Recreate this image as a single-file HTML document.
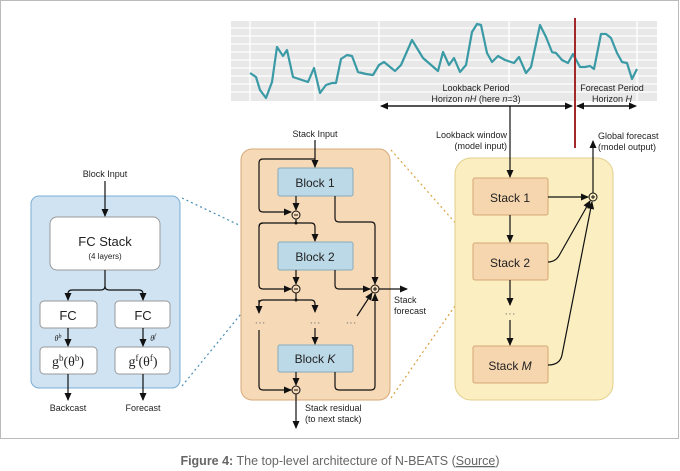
<!DOCTYPE html>
<html><head><meta charset="utf-8"><style>
body{margin:0;background:#fff;width:680px;height:471px;overflow:hidden}
svg{display:block;font-family:"Liberation Sans",sans-serif}
</style></head><body>
<svg width="680" height="471" viewBox="0 0 680 471" xmlns="http://www.w3.org/2000/svg">
<defs>
<marker id="a" markerWidth="8" markerHeight="8" refX="7" refY="4" orient="auto" markerUnits="userSpaceOnUse"><path d="M0,0.5 L8,4 L0,7.5 z" fill="#111"/></marker>
</defs>
<rect x="0.5" y="0.5" width="678" height="438" fill="#fff" stroke="#bbb"/>
<!-- chart -->
<rect x="231" y="21" width="426" height="80" fill="#e8e8e8"/>
<g stroke="#fff" stroke-width="1.3">
<line x1="231" y1="28" x2="657" y2="28"/><line x1="231" y1="36" x2="657" y2="36"/><line x1="231" y1="44" x2="657" y2="44"/><line x1="231" y1="52" x2="657" y2="52"/><line x1="231" y1="60" x2="657" y2="60"/><line x1="231" y1="68" x2="657" y2="68"/><line x1="231" y1="76" x2="657" y2="76"/><line x1="231" y1="84" x2="657" y2="84"/><line x1="231" y1="92" x2="657" y2="92"/>
<line x1="250" y1="21" x2="250" y2="101"/><line x1="315" y1="21" x2="315" y2="101"/><line x1="379" y1="21" x2="379" y2="101"/><line x1="509" y1="21" x2="509" y2="101"/><line x1="637" y1="21" x2="637" y2="101"/>
</g>
<polyline fill="none" stroke="#3a9aa5" stroke-width="2.2" stroke-linejoin="round" points="250,73 256,77 260,90 266,98 272,82 277,47 283,56 287,50 293,77 299,79 308,82 314,68 320,93 326,85 332,83 336,83 341,59 347,55 352,56 358,72 366,74 373,75 379,65 384,62 395,71 401,65 412,40 423,58 438,71 443,52 449,65 454,58 460,72 466,65 472,32 477,24 481,25 487,53 492,62 498,56 505,60 514,63 519,57 526,73 531,67 540,25 546,37 552,52 556,53 562,60 568,63 573,54 580,67 585,67 590,66 594,69 601,34 606,34 611,38 617,53 622,62 627,63 632,79 637,69"/>
<line x1="575" y1="18" x2="575" y2="148" stroke="#a3282a" stroke-width="2"/>
<g font-size="9" fill="#222" text-anchor="middle">
<text x="476" y="91">Lookback Period</text>
<text x="476" y="102">Horizon <tspan font-style="italic">nH</tspan> (here <tspan font-style="italic">n</tspan>=3)</text>
<text x="612" y="91">Forecast Period</text>
<text x="612" y="102">Horizon <tspan font-style="italic">H</tspan></text>
</g>
<g stroke="#111" stroke-width="1.2" fill="none">
<line x1="385" y1="106" x2="572" y2="106" marker-end="url(#a)"/>
<line x1="570" y1="106" x2="381" y2="106" marker-end="url(#a)"/>
<line x1="579" y1="106" x2="636" y2="106" marker-end="url(#a)"/>
<line x1="634" y1="106" x2="577" y2="106" marker-end="url(#a)"/>
</g>
<!-- Left block -->
<rect x="31" y="196" width="149" height="192" rx="8" fill="#cfe3f3" stroke="#7aaed4"/>
<rect x="50" y="217" width="110" height="53" rx="7" fill="#fff" stroke="#999"/>
<rect x="40" y="301" width="57" height="27" rx="4" fill="#fff" stroke="#999"/>
<rect x="115" y="301" width="55" height="27" rx="4" fill="#fff" stroke="#999"/>
<rect x="40" y="347" width="57" height="27" rx="4" fill="#fff" stroke="#999"/>
<rect x="115" y="347" width="55" height="27" rx="4" fill="#fff" stroke="#999"/>
<g font-size="9" fill="#222" text-anchor="middle">
<text x="105" y="177">Block Input</text>
<text x="68" y="411">Backcast</text>
<text x="143" y="411">Forecast</text>
<text x="105" y="246" font-size="13">FC Stack</text>
<text x="105" y="259" font-size="8">(4 layers)</text>
<text x="68" y="320" font-size="13">FC</text>
<text x="143" y="320" font-size="13">FC</text>
<text x="68" y="366" font-size="14" font-family="Liberation Serif,serif">g<tspan font-size="9" dy="-5">b</tspan><tspan dy="5">(θ</tspan><tspan font-size="9" dy="-5">b</tspan><tspan dy="5">)</tspan></text>
<text x="143" y="366" font-size="14" font-family="Liberation Serif,serif">g<tspan font-size="9" dy="-5">f</tspan><tspan dy="5">(θ</tspan><tspan font-size="9" dy="-5">f</tspan><tspan dy="5">)</tspan></text>
<text x="58" y="341" font-size="8" font-style="italic" font-family="Liberation Serif,serif">θ<tspan font-size="6" dy="-3">b</tspan></text>
<text x="153" y="341" font-size="8" font-style="italic" font-family="Liberation Serif,serif">θ<tspan font-size="6" dy="-3">f</tspan></text>
</g>
<g stroke="#111" stroke-width="1.2" fill="none">
<line x1="105" y1="181" x2="105" y2="216" marker-end="url(#a)"/>
<path d="M105,270 L105,286 Q105,290 101,290 L72,290 Q68,290 68,294 L68,300" marker-end="url(#a)"/>
<path d="M105,286 Q105,290 109,290 L139,290 Q143,290 143,294 L143,300" marker-end="url(#a)"/>
<line x1="68" y1="328" x2="68" y2="346" marker-end="url(#a)"/>
<line x1="143" y1="328" x2="143" y2="346" marker-end="url(#a)"/>
<line x1="68" y1="374" x2="68" y2="400" marker-end="url(#a)"/>
<line x1="143" y1="374" x2="143" y2="400" marker-end="url(#a)"/>
</g>
<!-- dashed -->
<g stroke-dasharray="2,3" stroke-width="1.2" fill="none">
<line x1="182" y1="198" x2="277" y2="243" stroke="#4a8db5"/>
<line x1="182" y1="386" x2="277" y2="270" stroke="#4a8db5"/>
<line x1="391" y1="150" x2="473" y2="243" stroke="#d9a040"/>
<line x1="391" y1="398" x2="473" y2="280" stroke="#d9a040"/>
</g>
<!-- middle stack -->
<rect x="241" y="149" width="149" height="251" rx="11" fill="#f6d9b7" stroke="#d7aa7a"/>
<g fill="#bcd9e8" stroke="#88aabc">
<rect x="278" y="168" width="75" height="28" rx="2"/>
<rect x="278" y="242" width="75" height="28" rx="2"/>
<rect x="278" y="345" width="75" height="27" rx="2"/>
</g>
<g font-size="12" fill="#222" text-anchor="middle">
<text x="315" y="187">Block 1</text>
<text x="315" y="261">Block 2</text>
<text x="315" y="363">Block <tspan font-style="italic">K</tspan></text>
</g>
<g font-size="9" fill="#222">
<text x="315" y="137" text-anchor="middle">Stack Input</text>
<text x="394" y="303">Stack</text>
<text x="394" y="314">forecast</text>
<text x="305" y="411">Stack residual</text>
<text x="305" y="422">(to next stack)</text>
</g>
<g stroke="#111" stroke-width="1.2" fill="none">
<line x1="315" y1="140" x2="315" y2="167" marker-end="url(#a)"/>
<path d="M315,159 L263,159 Q259,159 259,163 L259,208 Q259,212 263,212 L291,212" marker-end="url(#a)"/>
<line x1="296" y1="196" x2="296" y2="210" marker-end="url(#a)"/>
<path d="M335,196 L335,218 Q335,222 339,222 L371,222 Q375,222 375,226 L375,284" marker-end="url(#a)"/>
<line x1="296" y1="219" x2="296" y2="223"/>
<path d="M259,227 Q259,223 263,223 L311,223 Q315,223 315,227 L315,241" marker-end="url(#a)"/>
<path d="M263,223 Q259,223 259,227 L259,285 Q259,289 263,289 L291,289" marker-end="url(#a)"/>
<line x1="296" y1="270" x2="296" y2="284" marker-end="url(#a)"/>
<path d="M335,270 L335,285 Q335,289 339,289 L370,289" marker-end="url(#a)"/>
<line x1="296" y1="293" x2="296" y2="300"/>
<path d="M259,312 L259,304 Q259,300 263,300 L311,300 Q315,300 315,304 L315,312" marker-end="url(#a)"/>
<line x1="259" y1="300" x2="259" y2="313" marker-end="url(#a)"/>
<line x1="315" y1="328" x2="315" y2="344" marker-end="url(#a)"/>
<path d="M259,330 L259,386 Q259,390 263,390 L291,390" marker-end="url(#a)"/>
<line x1="296" y1="372" x2="296" y2="385" marker-end="url(#a)"/>
<path d="M335,372 L335,386 Q335,390 339,390 L371,390 Q375,390 375,386 L375,294" marker-end="url(#a)"/>
<line x1="357" y1="316" x2="372" y2="293" marker-end="url(#a)"/>
<line x1="379" y1="289" x2="407" y2="289" marker-end="url(#a)"/>
<line x1="296" y1="394" x2="296" y2="428" marker-end="url(#a)"/>
</g>
<g fill="#f6d9b7" stroke="#111" stroke-width="1">
<circle cx="296" cy="215" r="4"/><circle cx="296" cy="289" r="4"/><circle cx="296" cy="390" r="4"/><circle cx="375" cy="289" r="4"/>
</g>
<g stroke="#111" stroke-width="1"><line x1="294" y1="215" x2="298" y2="215"/><line x1="294" y1="289" x2="298" y2="289"/><line x1="294" y1="390" x2="298" y2="390"/><line x1="373" y1="289" x2="377" y2="289"/><line x1="375" y1="287" x2="375" y2="291"/></g>
<g fill="#111"><circle cx="296" cy="223" r="1.5"/><circle cx="296" cy="300" r="1.5"/></g>
<g font-size="11" fill="#777" text-anchor="middle"><text x="260" y="326">···</text><text x="315" y="326">···</text><text x="351" y="326">···</text></g>
<!-- right stacks -->
<rect x="455" y="158" width="158" height="242" rx="16" fill="#fbeec0" stroke="#e2cf8c"/>
<g fill="#f6d6ae" stroke="#d4a777">
<rect x="473" y="178" width="75" height="37" rx="2"/>
<rect x="473" y="243" width="75" height="37" rx="2"/>
<rect x="473" y="346" width="75" height="37" rx="2"/>
</g>
<g font-size="12" fill="#222" text-anchor="middle">
<text x="510" y="202">Stack 1</text>
<text x="510" y="267">Stack 2</text>
<text x="510" y="370">Stack <tspan font-style="italic">M</tspan></text>
</g>
<g font-size="9" fill="#222">
<text x="507" y="138" text-anchor="end">Lookback window</text>
<text x="507" y="149" text-anchor="end">(model input)</text>
<text x="598" y="139">Global forecast</text>
<text x="598" y="150">(model output)</text>
</g>
<g font-size="11" fill="#777" text-anchor="middle"><text x="510" y="317">···</text></g>
<g stroke="#111" stroke-width="1.2" fill="none">
<line x1="510" y1="106" x2="510" y2="177" marker-end="url(#a)"/>
<line x1="510" y1="215" x2="510" y2="242" marker-end="url(#a)"/>
<line x1="510" y1="280" x2="510" y2="305" marker-end="url(#a)"/>
<line x1="510" y1="320" x2="510" y2="345" marker-end="url(#a)"/>
<line x1="548" y1="197" x2="588" y2="197" marker-end="url(#a)"/>
<path d="M548,262 Q556,262 560,254 L590,201" marker-end="url(#a)"/>
<path d="M548,365 Q560,365 562,355 L592,202" marker-end="url(#a)"/>
<line x1="593" y1="193" x2="593" y2="141" marker-end="url(#a)"/>
</g>
<circle cx="593" cy="197" r="4" fill="#fbeec0" stroke="#111"/>
<g stroke="#111"><line x1="591" y1="197" x2="595" y2="197"/><line x1="593" y1="195" x2="593" y2="199"/></g>
<!-- caption -->
<text x="340" y="465" font-size="12.5" fill="#666" text-anchor="middle"><tspan font-weight="bold">Figure 4:</tspan> The top-level architecture of N-BEATS (<tspan text-decoration="underline">Source</tspan>)</text>
</svg>
</body></html>
